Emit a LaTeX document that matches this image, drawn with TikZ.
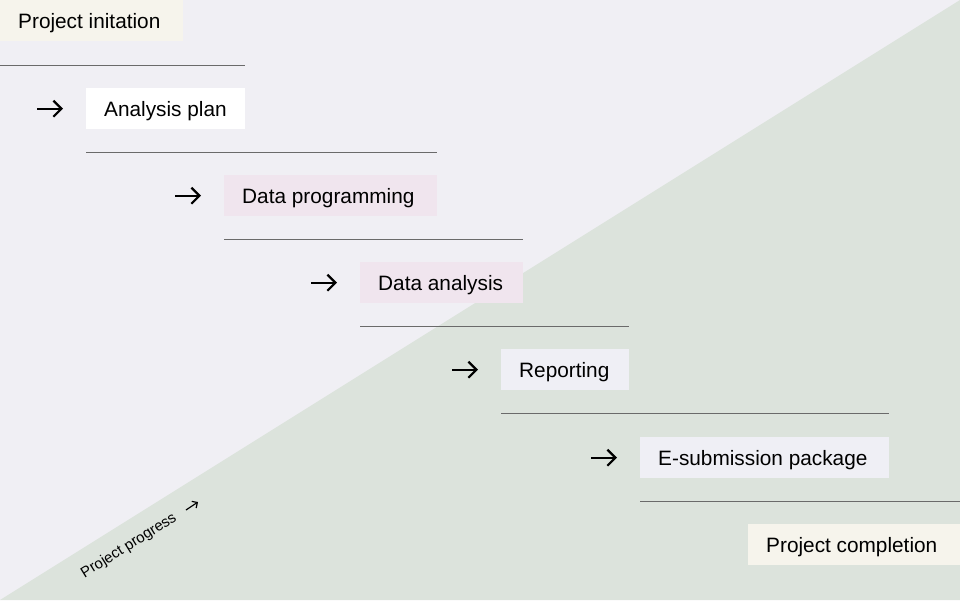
\documentclass[tikz,border=0pt]{standalone}
\usepackage{fontspec}
\setmainfont{Liberation Sans}
\usetikzlibrary{arrows.meta,calc}
\definecolor{bgA}{HTML}{F0EFF4}
\definecolor{bgB}{HTML}{DCE3DC}
\definecolor{cream}{HTML}{F6F4EC}
\definecolor{pinkbox}{HTML}{F0E5EE}
\definecolor{lavbox}{HTML}{EFEFF5}
\definecolor{rulegray}{HTML}{6A6A6A}
\newcommand{\stagetext}[2]{\makebox[#1][l]{#2}}
\begin{document}
\begin{tikzpicture}[x=1pt,y=-1pt,
  stage/.style={anchor=north west, inner xsep=18pt, inner ysep=0pt, minimum height=41pt, text height=15pt, text depth=0pt, font=\fontsize{20.8}{24}\selectfont, text=black},
  sep/.style={draw=rulegray, line width=0.9pt},
  stepar/.style={line width=2.2pt, -{Straight Barb[length=8pt,width=16pt,line width=2.2pt]}}
]
\useasboundingbox (0,0) rectangle (960,600);
\fill[bgA] (0,0) rectangle (960,600);
\fill[bgB] (960,0) -- (960,600) -- (0,600) -- cycle;

\node[stage, fill=cream] (init) at (0,0) {\stagetext{147pt}{Project initation}};
\node[stage, fill=white] (plan) at (86,88) {\stagetext{123pt}{Analysis plan}};
\node[stage, fill=pinkbox] (prog) at (224,175) {\stagetext{177pt}{Data programming}};
\node[stage, fill=pinkbox] (anal) at (360,262) {\stagetext{127pt}{Data analysis}};
\node[stage, fill=lavbox] (rep) at (501,349) {\stagetext{92pt}{Reporting}};
\node[stage, fill=lavbox] (esub) at (640,437) {\stagetext{213pt}{E-submission package}};
\node[stage, fill=cream] (comp) at (748,524) {\stagetext{176pt}{Project completion}};

% separators
\coordinate (l1a) at (0,65);   \coordinate (l1b) at (245,65);
\coordinate (l2a) at (86,152); \coordinate (l2b) at (437,152);
\coordinate (l3a) at (224,239);\coordinate (l3b) at (523,239);
\coordinate (l4a) at (360,326);\coordinate (l4b) at (629,326);
\coordinate (l5a) at (501,413);\coordinate (l5b) at (889,413);
\coordinate (l6a) at (640,501);\coordinate (l6b) at (960,501);
\draw[sep] (l1a) -- (l1b);
\draw[sep] (l2a) -- (l2b);
\draw[sep] (l3a) -- (l3b);
\draw[sep] (l4a) -- (l4b);
\draw[sep] (l5a) -- (l5b);
\draw[sep] (l6a) -- (l6b);

% arrows
\foreach \n in {plan,prog,anal,rep,esub}{
  \draw[stepar] ($(\n.west)+(-49,0)$) -- ($(\n.west)+(-23,0)$);
}

% project progress
\node[rotate=32, font=\fontsize{15}{17}\selectfont, text=black] (prg) at (129,546) {Project progress};
\coordinate (pa) at (186,510);
\coordinate (pb) at (198,502);
\draw[line width=1.2pt, -{Straight Barb[length=4pt,width=8pt,line width=1.2pt]}] (pa) -- (pb);
\end{tikzpicture}
\end{document}
